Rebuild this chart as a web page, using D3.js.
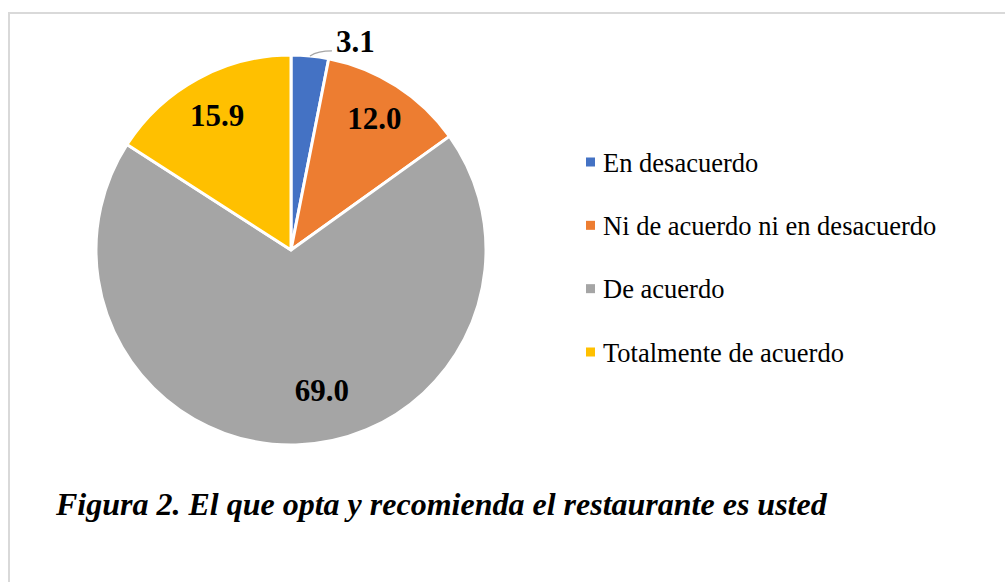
<!DOCTYPE html>
<html>
<head>
<meta charset="utf-8">
<script src="https://cdn.jsdelivr.net/npm/d3@7"></script>
<style>
  html, body { margin: 0; padding: 0; background: #fff; }
  svg { display: block; }
  text { font-family: "Liberation Serif", "Times New Roman", Times, "DejaVu Serif", serif; }
</style>
</head>
<body>
<div id="chart"></div>
<script>
// data
var categories = ["En desacuerdo", "Ni de acuerdo ni en desacuerdo", "De acuerdo", "Totalmente de acuerdo"];
var values = [3.1, 12.0, 69.0, 15.9];
var colors = ["#4472C4", "#ED7D31", "#A5A5A5", "#FFC000"];
var title = "Figura 2. El que opta y recomienda el restaurante es usted";

var width = 1005, height = 582;
var cx = 291, cy = 250, radius = 195;

var svg = d3.select("#chart").append("svg").attr("width", width).attr("height", height);

// chart border
svg.append("rect").attr("x", 9).attr("y", 13).attr("width", 1000).attr("height", 600)
    .attr("fill", "none").attr("stroke", "#d9d9d9").attr("stroke-width", 2);

var data = categories.map(function(c, i) {
    return {name: c, value: values[i], color: colors[i]};
});

var pie = d3.pie().sort(null).value(function(d) { return d.value; });
var arc = d3.arc().innerRadius(0).outerRadius(radius);
var labelArc = d3.arc().innerRadius(radius * 0.79).outerRadius(radius * 0.79);
var arcs = pie(data);

var g = svg.append("g").attr("transform", "translate(" + cx + "," + cy + ")");

g.selectAll("path").data(arcs).enter().append("path")
    .attr("d", arc)
    .attr("fill", function(d) { return d.data.color; })
    .attr("stroke", "#fff").attr("stroke-width", 3).attr("stroke-linejoin", "round");

// best fit placement: small one goes outside, big one gets nudged like excel did
var labelShift = [null, [0, -2], [27, -14], [0, 0]];

arcs.forEach(function(d, i) {
    var txt = d.data.value.toFixed(1);
    if (labelShift[i] === null) {
        var mid = (d.startAngle + d.endAngle) / 2;
        var x0 = Math.sin(mid) * radius, y0 = -Math.cos(mid) * radius;
        var x1 = x0 + 22, y1 = y0 - 5;
        g.append("path")
            .attr("d", "M" + x0 + "," + y0 + "Q" + (x0 + 8) + "," + (y1) + " " + x1 + "," + y1)
            .attr("fill", "none").attr("stroke", "#a6a6a6").attr("stroke-width", 1.2);
        g.append("text").attr("x", x1 + 4).attr("y", y1 + 1)
            .attr("font-weight", "bold").attr("font-size", 31).attr("fill", "#000")
            .text(txt);
    } else {
        var c = labelArc.centroid(d);
        g.append("text").attr("x", c[0] + labelShift[i][0]).attr("y", c[1] + labelShift[i][1])
            .attr("text-anchor", "middle").attr("dy", "0.35em")
            .attr("font-weight", "bold").attr("font-size", 31).attr("fill", "#000")
            .text(txt);
    }
});

// legend
var legendY = d3.scalePoint().domain(categories).range([162, 352]);
var legend = svg.selectAll(".legend").data(data).enter().append("g").attr("class", "legend")
    .attr("transform", function(d) { return "translate(586," + legendY(d.name) + ")"; });
legend.append("rect").attr("x", 0).attr("y", -4.5).attr("width", 9).attr("height", 9)
    .attr("fill", function(d) { return d.color; });
legend.append("text").attr("x", 17).attr("y", 9.5)
    .attr("font-size", 26.5).attr("fill", "#000")
    .text(function(d) { return d.name; });

// caption
svg.append("text").attr("x", 56).attr("y", 515)
    .attr("font-weight", "bold").attr("font-style", "italic").attr("font-size", 32)
    .attr("fill", "#000")
    .text(title);
</script>
</body>
</html>
